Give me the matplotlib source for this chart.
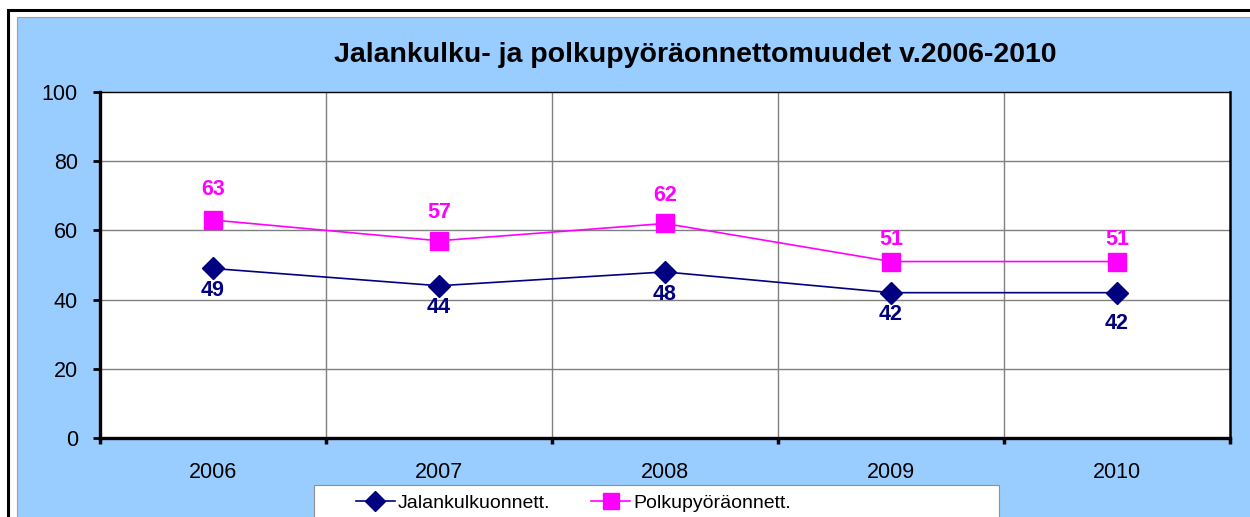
import matplotlib
matplotlib.use("Agg")
import matplotlib.pyplot as plt
from matplotlib.patches import Rectangle
from matplotlib.lines import Line2D

years = ["2006", "2007", "2008", "2009", "2010"]
jalankulku = [49, 44, 48, 42, 42]
polkupyora = [63, 57, 62, 51, 51]
series_names = ["Jalankulkuonnett.", "Polkupyöräonnett."]
title = "Jalankulku- ja polkupyöräonnettomuudet v.2006-2010"
yticks = [0, 20, 40, 60, 80, 100]

W, H = 1250, 517
plt.rcParams['font.family'] = ['Liberation Sans', 'DejaVu Sans']
fig = plt.figure(figsize=(W / 100, H / 100), dpi=100)
fig.patch.set_facecolor('white')

def fx(px):
    return px / W

def fy(py):
    return 1 - py / H

# background axes holding frame, blue area and legend box
bg = fig.add_axes([0, 0, 1, 1], zorder=-10)
bg.set_xlim(0, W)
bg.set_ylim(H, 0)
bg.axis('off')
bg.add_patch(Rectangle((8, 10), 1400, 600, facecolor='white',
                       edgecolor='black', linewidth=2.2, zorder=0))
bg.add_patch(Rectangle((17, 17), 1400, 600, facecolor='#99CCFF',
                       edgecolor='#A0A0A0', linewidth=0.8, zorder=1))
bg.add_patch(Rectangle((314, 485), 999 - 314, 200, facecolor='white',
                       edgecolor='#909090', linewidth=0.8, zorder=2))

ax = fig.add_axes([fx(100), fy(438), fx(1230) - fx(100), fy(92) - fy(438)], zorder=2)
ax.set_facecolor('white')
x = list(range(len(years)))
navy = '#000080'
magenta = '#FF00FF'

ax.plot(x, jalankulku, color=navy, lw=1.2, marker='D', ms=11,
        markerfacecolor=navy, markeredgecolor=navy, zorder=3)
ax.plot(x, polkupyora, color=magenta, lw=1.2, marker='s', ms=12.5,
        markerfacecolor=magenta, markeredgecolor=magenta, zorder=3)

jal_off = [-16, -16, -16, -16, -22]
pol_off = [22, 20.5, 20.5, 16, 16]
for i, (a, b) in enumerate(zip(jalankulku, polkupyora)):
    ax.annotate(str(a), (i, a), xytext=(0, jal_off[i]), textcoords='offset points',
                ha='center', va='center', fontsize=15.5, fontweight='bold', color=navy)
    ax.annotate(str(b), (i, b), xytext=(0, pol_off[i]), textcoords='offset points',
                ha='center', va='center', fontsize=15.5, fontweight='bold', color=magenta)

ax.set_xlim(-0.5, len(years) - 0.5)
ax.set_ylim(0, 100)
ax.set_yticks(yticks)
ax.set_yticklabels([str(v) for v in yticks])
ax.set_xticks(x)
ax.set_xticklabels(years)
ax.set_xticks([i - 0.5 for i in range(len(years) + 1)], minor=True)

ax.tick_params(axis='y', which='major', direction='out', length=5, width=2,
               labelsize=15.5, pad=11, colors='black')
ax.tick_params(axis='x', which='major', length=0, labelsize=15.5, pad=17)
ax.tick_params(axis='x', which='minor', direction='out', length=4, width=2.5)

for yv in yticks[1:-1]:
    ax.axhline(yv, color='#808080', lw=1.0, zorder=1)
for i in range(1, len(years)):
    ax.axvline(i - 0.5, color='#808080', lw=1.0, zorder=1)

ax.spines['left'].set_linewidth(2.4)
ax.spines['bottom'].set_linewidth(2.4)
ax.spines['top'].set_linewidth(1.0)
ax.spines['right'].set_linewidth(1.8)
for s in ax.spines.values():
    s.set_color('black')

fig.text(fx(695), fy(55), title, ha='center', va='center', fontsize=20.5,
         fontweight='bold', color='black')

handles = [Line2D([], [], color=navy, lw=1.2, marker='D', ms=10.5, markerfacecolor=navy),
           Line2D([], [], color=magenta, lw=1.2, marker='s', ms=11, markerfacecolor=magenta)]
leg = fig.legend(handles, series_names, loc='center left',
                 bbox_to_anchor=(fx(356), fy(503)), ncol=2, frameon=False,
                 fontsize=14, handlelength=2.0, handletextpad=0.15,
                 columnspacing=2.1, borderpad=0, borderaxespad=0)
leg.set_zorder(5)

fig.savefig('out.png', dpi=100)
